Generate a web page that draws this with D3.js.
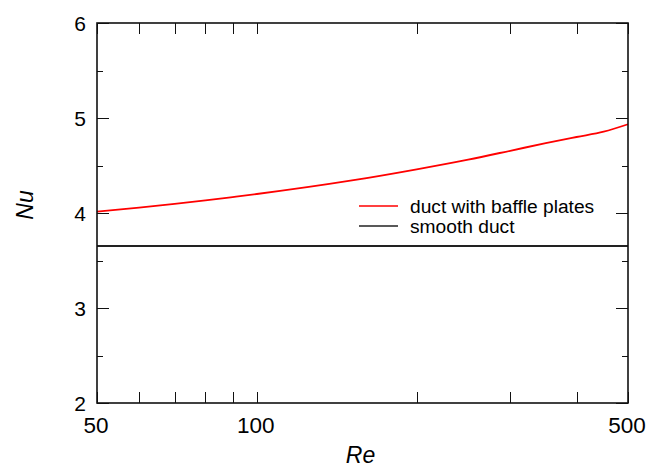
<!DOCTYPE html>
<html><head><meta charset="utf-8">
<script src="https://cdn.jsdelivr.net/npm/d3@7"></script>
<style>body{margin:0;background:#fff}svg{display:block;font-family:"Liberation Sans",Arial,sans-serif}</style>
</head><body><svg id="c" width="660" height="468"></svg>
<script>
const reValues = [50,60,70,80,90,100,150,200,250,300,350,400,450,500];
const nuBaffle = [4.014,4.056,4.096,4.133,4.168,4.2,4.34,4.46,4.562,4.655,4.735,4.8,4.856,4.934];
const nuSmooth = [3.653,3.653];
const reSmooth = [50,500];
const xMajorTicks = [50,100,500];
const xMinorTicks = [60,70,80,90,200,300,400];
const yMajorTicks = [2,3,4,5,6];
const yMinorTicks = [2.5,3.5,4.5,5.5];
const seriesNames = ["duct with baffle plates","smooth duct"];
const seriesColors = ["#ff0000","#222222"];

const L=97,R=628,T=23,B=403;
const svg=d3.select("#c");
const x=d3.scaleLog().domain([50,500]).range([L,R]);
const y=d3.scaleLinear().domain([2,6]).range([B,T]);

const line=d3.line().x(d=>x(d[0])).y(d=>y(d[1])).curve(d3.curveMonotoneX);
svg.append("path").datum(reSmooth.map((r,i)=>[r,nuSmooth[i]])).attr("d",line)
  .attr("fill","none").attr("stroke",seriesColors[1]).attr("stroke-width",2);
svg.append("path").datum(reValues.map((r,i)=>[r,nuBaffle[i]])).attr("d",line)
  .attr("fill","none").attr("stroke",seriesColors[0]).attr("stroke-width",1.8);

// ticks
const g=svg.append("g").attr("stroke","#111").attr("stroke-width",1);
xMajorTicks.concat(xMinorTicks).forEach(v=>{
  const xx=Math.round(x(v))+0.5;
  g.append("line").attr("x1",xx).attr("x2",xx).attr("y1",B).attr("y2",B-11);
  g.append("line").attr("x1",xx).attr("x2",xx).attr("y1",T).attr("y2",T+11);
});
yMajorTicks.forEach(v=>{
  const yy=Math.round(y(v))+0.5;
  g.append("line").attr("x1",L).attr("x2",L+12).attr("y1",yy).attr("y2",yy);
  g.append("line").attr("x1",R).attr("x2",R-12).attr("y1",yy).attr("y2",yy);
});
yMinorTicks.forEach(v=>{
  const yy=Math.round(y(v))+0.5;
  g.append("line").attr("x1",L).attr("x2",L+6).attr("y1",yy).attr("y2",yy);
  g.append("line").attr("x1",R).attr("x2",R-6).attr("y1",yy).attr("y2",yy);
});
svg.append("rect").attr("x",L).attr("y",T).attr("width",R-L).attr("height",B-T)
  .attr("fill","none").attr("stroke","#111").attr("stroke-width",1.6);

// tick labels
yMajorTicks.forEach(v=>{
  svg.append("text").attr("x",86).attr("y",y(v)).attr("dy","0.36em")
    .attr("text-anchor","end").attr("font-size",21).text(v);
});
xMajorTicks.forEach(v=>{
  svg.append("text").attr("x",x(v)-1).attr("y",433).attr("text-anchor","middle")
    .attr("font-size",22.5).text(v);
});
svg.append("text").attr("x",(L+R)/2-2).attr("y",463).attr("text-anchor","middle")
  .attr("font-size",23).attr("font-style","italic").text("Re");
svg.append("text").attr("transform","translate(33,205) rotate(-90)").attr("text-anchor","middle")
  .attr("font-size",23).attr("font-style","italic").text("Nu");

// legend
seriesNames.forEach((n,i)=>{
  const yy=206+i*20;
  svg.append("line").attr("x1",359).attr("x2",398).attr("y1",yy).attr("y2",yy)
    .attr("stroke",seriesColors[i]).attr("stroke-width",1.5);
  svg.append("text").attr("x",410).attr("y",yy+6.8).attr("font-size",19.2).text(n);
});
</script></body></html>
